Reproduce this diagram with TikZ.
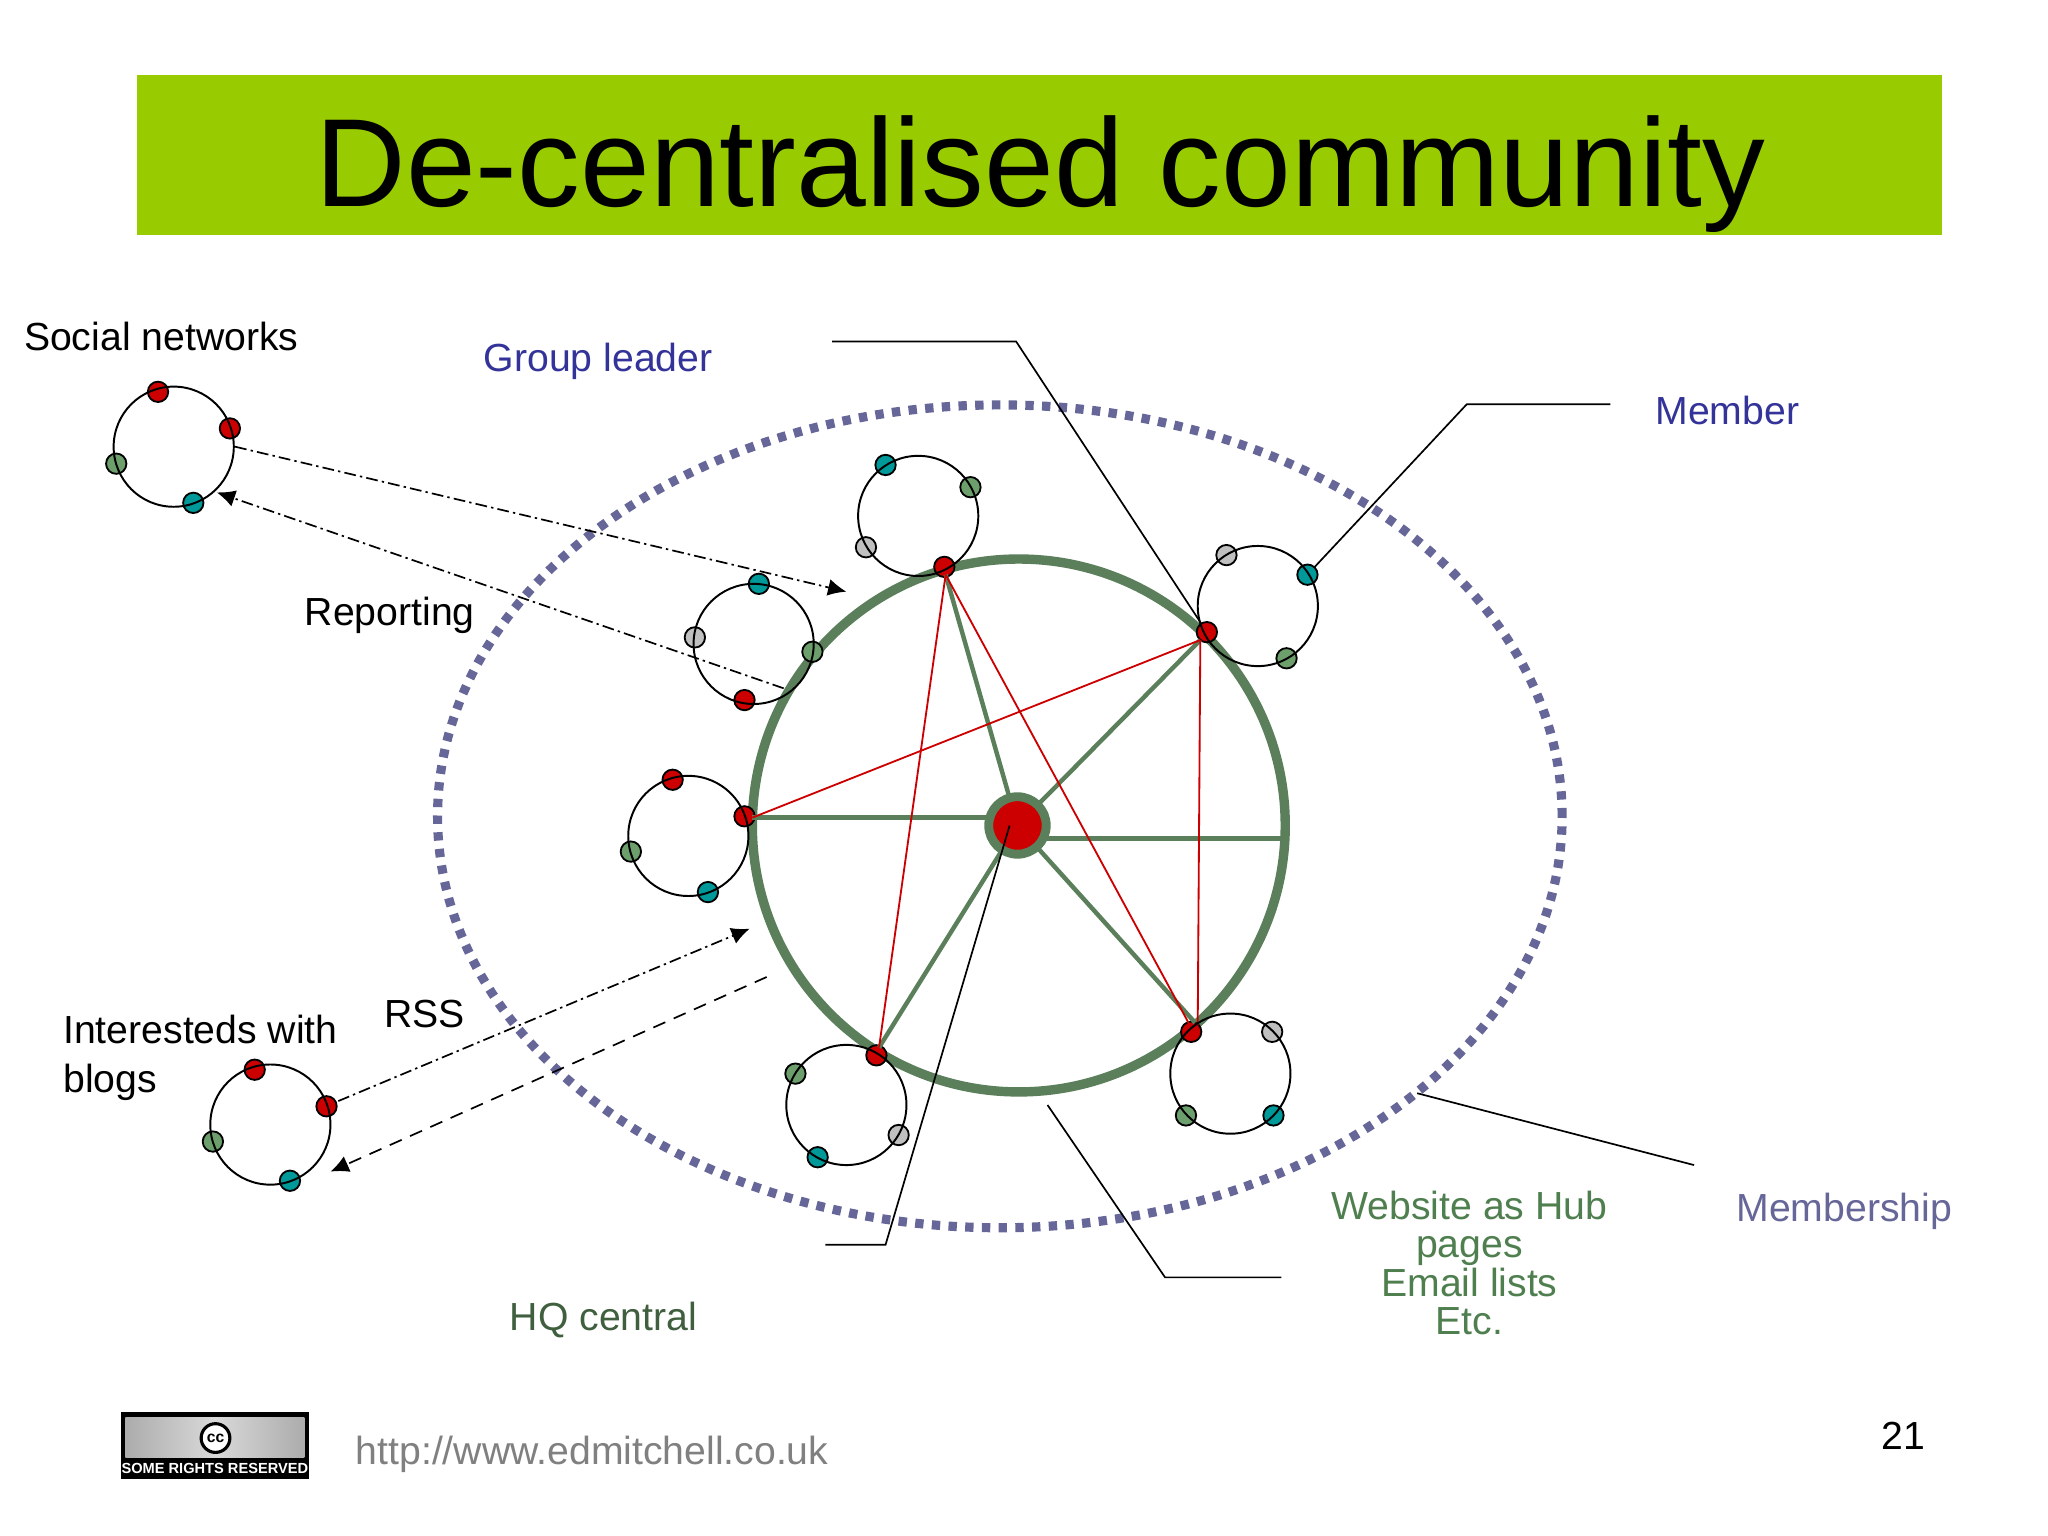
\documentclass[tikz,border=0pt]{standalone}
\usepackage{fontspec}
\setmainfont{Liberation Sans}
\usetikzlibrary{arrows.meta,shapes.geometric}
\definecolor{barG}{HTML}{99CC00}
\definecolor{hubG}{HTML}{5A7F5A}
\definecolor{redD}{HTML}{CC0000}
\definecolor{tealD}{HTML}{009999}
\definecolor{greyD}{HTML}{C0C0C0}
\definecolor{greenD}{HTML}{6C9F6C}
\definecolor{dotP}{HTML}{666699}
\definecolor{blueT}{HTML}{333399}
\definecolor{greenT}{HTML}{4F7F4F}
\definecolor{hqT}{HTML}{3F5F3F}
\definecolor{urlT}{HTML}{808080}
\tikzset{
  dotbase/.style={circle,draw=black,line width=0.7pt,minimum size=7.8pt,inner sep=0pt,outer sep=0pt},
  rd/.style={dotbase,fill=redD},
  tl/.style={dotbase,fill=tealD},
  gy/.style={dotbase,fill=greyD},
  gn/.style={dotbase,fill=greenD},
  ring/.style={circle,draw=black,line width=0.75pt,minimum size=46pt,inner sep=0pt,outer sep=0pt},
  lab/.style={font=\fontsize{15}{18}\selectfont,inner sep=0pt,anchor=base west},
  redln/.style={redD,line width=0.7pt},
  spoke/.style={hubG,line width=1.7pt},
  leader/.style={black,line width=0.65pt},
  dashdot/.style={black,line width=0.65pt,dash pattern=on 4.5pt off 1.6pt on 0.9pt off 1.6pt,-{Latex[length=7pt,width=6.5pt]}},
  dashonly/.style={black,line width=0.65pt,dash pattern=on 5pt off 3.5pt,-{Latex[length=7pt,width=6.5pt]}}
}
\begin{document}
\begin{tikzpicture}[x=0.5pt,y=-0.5pt]
\useasboundingbox (0,0) rectangle (1568,1176);
\fill[white] (0,0) rectangle (1568,1176);
% title bar
\node[fill=barG,minimum width=691pt,minimum height=61.5pt,inner sep=0pt,outer sep=0pt] (bar) at (796,118.7) {};
\node[font=\fontsize{48}{48}\selectfont,inner sep=0pt,anchor=base] (title) at (796.5,158) {De-centralised community};
% membership ellipse
\node[ellipse,draw=dotP,line width=3.5pt,dash pattern=on 3.2pt off 3.2pt,minimum width=430.5pt,minimum height=315pt,inner sep=0pt,outer sep=0pt] (memb) at (765.5,625) {};
% website circle
\node[circle,draw=hubG,line width=3.6pt,minimum size=204pt,inner sep=0pt,outer sep=0pt] (web) at (780,632) {};
% hub
\node[circle,draw=hubG,fill=redD,line width=3.4pt,minimum size=22pt,inner sep=0pt,outer sep=0pt] (hub) at (779,632) {};
% dots
\node[tl] (t1) at (678,356) {}; \node[gn] (t2) at (743,373) {}; \node[gy] (t3) at (663,419) {}; \node[rd] (t4) at (723,434) {};
\node[tl] (u1) at (581,447) {}; \node[gy] (u2) at (532,488) {}; \node[gn] (u3) at (622,499) {}; \node[rd] (u4) at (570,536) {};
\node[rd] (l1) at (515,597) {}; \node[rd] (l2) at (570,625) {}; \node[gn] (l3) at (483,652) {}; \node[tl] (l4) at (542,683) {};
\node[gy] (r1) at (939,425) {}; \node[tl] (r2) at (1001,440) {}; \node[rd] (r3) at (924,484) {}; \node[gn] (r4) at (985,504) {};
\node[gn] (b1) at (609,822) {}; \node[rd] (b2) at (671,808) {}; \node[gy] (b3) at (688,869) {}; \node[tl] (b4) at (626,886) {};
\node[gy] (c1) at (974,790) {}; \node[rd] (c2) at (912,790) {}; \node[gn] (c3) at (908,854) {}; \node[tl] (c4) at (975,854) {};
\node[rd] (s1) at (121,300) {}; \node[rd] (s2) at (176,328) {}; \node[gn] (s3) at (89,355) {}; \node[tl] (s4) at (148,385) {};
\node[rd] (i1) at (195,819) {}; \node[rd] (i2) at (250,847) {}; \node[gn] (i3) at (163,874) {}; \node[tl] (i4) at (222,904) {};
% spokes and red links
\coordinate (hl) at (760,626); \coordinate (hr) at (800,642); \coordinate (rimR) at (982,642);
\coordinate (rj) at (919,490); \coordinate (cj) at (915,783); \coordinate (bj) at (673,802);
\coordinate (lj) at (576,626); \coordinate (tj) at (724,440); \coordinate (cr) at (917,785); \coordinate (ct) at (911,785);
\draw[spoke] (lj) -- (hl);
\draw[spoke] (hr) -- (rimR);
\draw[spoke] (tj) -- (hub);
\draw[spoke] (rj) -- (hub);
\draw[spoke] (bj) -- (hub);
\draw[spoke] (cj) -- (hub);
\draw[redln] (tj) -- (bj);
\draw[redln] (tj) -- (ct);
\draw[redln] (lj) -- (rj);
\draw[redln] (rj) -- (cr);
% rings, over their dots
\node[ring] (ringS) at (133,342) {};
\node[ring] (ringT) at (703,395) {};
\node[ring] (ringU) at (577,493) {};
\node[ring] (ringL) at (527,640) {};
\node[ring] (ringR) at (963,464) {};
\node[ring] (ringB) at (648,846) {};
\node[ring] (ringC) at (942,822) {};
\node[ring] (ringI) at (207,861) {};
% labels
\node[lab] (tSocial) at (18,268.5) {Social networks};
\node[lab,text=blueT] (tGroup) at (370,284.5) {Group leader};
\node[lab,text=blueT] (tMember) at (1267,325) {Member};
\node[lab] (tReport) at (233,479) {Reporting};
\node[lab] (tRss) at (294,787) {RSS};
\node[font=\fontsize{15}{18.5}\selectfont,align=left,inner sep=0pt,anchor=west] (tInt) at (48,810) {Interesteds with\\blogs};
\node[lab,text=hqT] (tHq) at (390,1019) {HQ central};
\node[font=\fontsize{15}{14.65}\selectfont,align=center,inner sep=0pt,text=greenT] (tWeb) at (1125,967) {Website as Hub\\pages\\Email lists\\Etc.};
\node[lab,text=dotP] (tMs) at (1329,935) {Membership};
\node[lab,text=urlT] (tUrl) at (272,1121) {http://www.edmitchell.co.uk};
\node[lab,anchor=base] (tNum) at (1457,1110) {21};
% leader lines
\coordinate (g0) at (637,261.5); \coordinate (g1) at (778,261.5);
\draw[leader] (g0) -- (g1) -- (r3);
\coordinate (m0) at (1233,309.5); \coordinate (m1) at (1123,309.5);
\draw[leader] (m0) -- (m1) -- (r2);
\coordinate (q0) at (632,953); \coordinate (q1) at (678,953); \coordinate (q2) at (773,632);
\draw[leader] (q0) -- (q1) -- (q2);
\coordinate (w0) at (802,846); \coordinate (w1) at (892,978); \coordinate (w2) at (981,978);
\draw[leader] (w0) -- (w1) -- (w2);
\coordinate (p0) at (1297,892); \coordinate (p1) at (1085,837);
\draw[leader] (p0) -- (p1);
% arrows
\coordinate (a0) at (180,342); \coordinate (a1) at (648,453);
\draw[dashdot] (a0) -- (a1);
\coordinate (a2) at (600,527); \coordinate (a3) at (166,377);
\draw[dashdot] (a2) -- (a3);
\coordinate (a4) at (259,843); \coordinate (a5) at (574,711);
\draw[dashdot] (a4) -- (a5);
\coordinate (a6) at (587,748); \coordinate (a7) at (253,897);
\draw[dashonly] (a6) -- (a7);
% licence badge
\node[draw=black,line width=1.2pt,fill=black,minimum width=71pt,minimum height=24.5pt,inner sep=0pt,outer sep=0pt] (badge) at (164.5,1107) {};
\fill[left color=gray!65,right color=gray!65,middle color=gray!30] (96,1085) rectangle (233,1116);
\node[circle,draw=black,fill=white,line width=1.2pt,minimum size=11pt,inner sep=0pt,font=\fontsize{6}{6}\bfseries\selectfont] (cc) at (165,1101) {cc};
\node[inner sep=0pt,text=white,font=\fontsize{5.6}{6}\bfseries\selectfont] (some) at (164.5,1124) {SOME RIGHTS RESERVED};
\end{tikzpicture}
\end{document}
